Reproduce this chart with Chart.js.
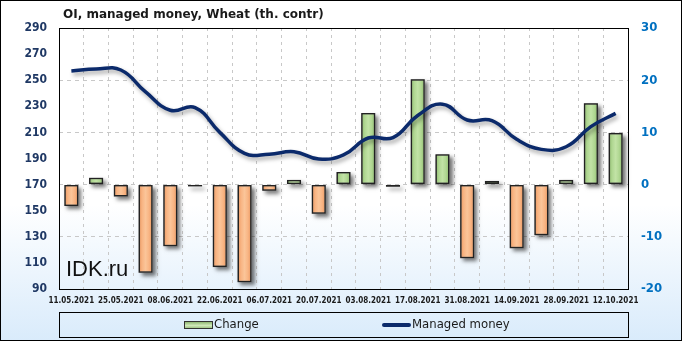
<!DOCTYPE html>
<html>
<head>
<meta charset="utf-8">
<script src="https://cdn.jsdelivr.net/npm/chart.js@4.4.1/dist/chart.umd.min.js"></script>
<style>
  html, body { margin: 0; padding: 0; background: #fff; }
  #wrap { width: 682px; height: 341px; position: relative; }
</style>
</head>
<body>
<div id="wrap"><canvas id="chart" width="682" height="341"></canvas></div>
<script>
const dates = [
    '11.05.2021', '18.05.2021', '25.05.2021', '01.06.2021', '08.06.2021', '15.06.2021',
    '22.06.2021', '29.06.2021', '06.07.2021', '13.07.2021', '20.07.2021', '27.07.2021',
    '03.08.2021', '10.08.2021', '17.08.2021', '24.08.2021', '31.08.2021', '07.09.2021',
    '14.09.2021', '21.09.2021', '28.09.2021', '05.10.2021', '12.10.2021'
];

// weekly change, th. contracts (right axis)
const change = [-4.1, 1.3, -2.3, -16.9, -11.8, -0.3, -15.8, -18.7, -1.2, 0.9, -5.6, 2.4,
    13.7, -0.4, 20.2, 5.8, -14.1, 0.7, -12.2, -9.7, 0.9, 15.6, 9.9];

// managed money open interest, th. contracts (left axis)
const managed = [257, 258.6, 257.8, 241, 227, 229, 210, 194, 193.2, 195.2, 189.6, 192.7,
    205.7, 206, 223, 231.6, 219.5, 219, 204.7, 197, 199, 214.4, 224.6];

const leftTicks = { min: 90, max: 290, step: 20 };
const rightTicks = { min: -20, max: 30, step: 10 };

const title = 'OI, managed money, Wheat (th. contr)';

function barFill(context) {
    const chart = context.chart;
    const up = context.raw >= 0;
    if (!chart.chartArea) return up ? '#a9d18e' : '#f4b183';
    const x = chart.scales.x.getPixelForValue(context.dataIndex);
    const g = chart.ctx.createLinearGradient(x - 7, 0, x + 7, 0);
    if (up) {
        g.addColorStop(0, '#8dba6c');
        g.addColorStop(0.25, '#b0d792');
        g.addColorStop(0.5, '#c2e3a6');
        g.addColorStop(0.75, '#b0d792');
        g.addColorStop(1, '#8dba6c');
    } else {
        g.addColorStop(0, '#e9955d');
        g.addColorStop(0.25, '#f8b483');
        g.addColorStop(0.5, '#fbc599');
        g.addColorStop(0.75, '#f8b483');
        g.addColorStop(1, '#e9955d');
    }
    return g;
}

const background = {
    id: 'background',
    beforeDraw(chart) {
        const { ctx, width, height } = chart;
        const g = ctx.createLinearGradient(0, 0, 0, height);
        g.addColorStop(0, '#ffffff');
        g.addColorStop(0.6, '#ffffff');
        g.addColorStop(1, '#d9ebfb');
        ctx.save();
        ctx.fillStyle = g;
        ctx.fillRect(0, 0, width, height);
        ctx.restore();
    },
    afterDraw(chart) {
        const { ctx, width, height, chartArea: a } = chart;
        ctx.save();
        ctx.strokeStyle = '#000';
        ctx.lineWidth = 1;
        ctx.strokeRect(0.5, 0.5, width - 1, height - 1);
        ctx.strokeRect(Math.round(a.left) + 0.5, Math.round(a.top) + 0.5,
            Math.round(a.right - a.left), Math.round(a.bottom - a.top));

        // title
        ctx.fillStyle = '#1a1a1a';
        ctx.font = 'bold 12px "DejaVu Sans"';
        ctx.textBaseline = 'middle';
        ctx.fillText(title, 63, 15);

        // watermark
        ctx.font = '22px "Liberation Sans"';
        ctx.fillStyle = '#111';
        ctx.textBaseline = 'alphabetic';
        ctx.fillText('IDK.ru', 66, 276);

        // legend
        ctx.strokeRect(59.5, 312.5, 569, 25);
        const ds = chart.data.datasets;
        ctx.font = '13px "DejaVu Sans Condensed"';
        ctx.textBaseline = 'middle';
        const lg = ctx.createLinearGradient(0, 322, 0, 329);
        lg.addColorStop(0, '#8fb873');
        lg.addColorStop(0.5, '#cfe8b8');
        lg.addColorStop(1, '#8fb873');
        ctx.fillStyle = lg;
        ctx.fillRect(184.5, 321.5, 28, 7);
        ctx.strokeStyle = '#333';
        ctx.strokeRect(184.5, 321.5, 28, 7);
        ctx.fillStyle = '#1a1a1a';
        ctx.fillText(ds[1].label, 214, 325);
        ctx.strokeStyle = '#0b2a6b';
        ctx.lineWidth = 4;
        ctx.lineCap = 'round';
        ctx.beginPath();
        ctx.moveTo(384, 325);
        ctx.lineTo(409, 325);
        ctx.stroke();
        ctx.fillText(ds[0].label, 412, 325);
        ctx.restore();
    }
};

// soft drop shadow under bars and the line
const shadow = {
    id: 'shadow',
    beforeDatasetDraw(chart, args) {
        const ctx = chart.ctx;
        if (args.meta.type === 'bar') {
            ctx.save();
            ctx.shadowColor = 'rgba(0,0,0,0.55)';
            ctx.shadowBlur = 4;
            ctx.shadowOffsetX = 3;
            ctx.shadowOffsetY = 3;
            ctx.fillStyle = '#777';
            args.meta.data.forEach(bar => {
                const { x, y, base, width } = bar.getProps(['x', 'y', 'base', 'width'], true);
                const top = Math.min(y, base);
                ctx.fillRect(x - width / 2, top, width, Math.max(Math.abs(base - y), 1.5));
            });
            ctx.restore();
        } else {
            ctx.save();
            ctx.shadowColor = 'rgba(0,0,0,0.35)';
            ctx.shadowBlur = 4;
            ctx.shadowOffsetX = 2;
            ctx.shadowOffsetY = 3;
        }
    },
    afterDatasetDraw(chart, args) {
        if (args.meta.type !== 'bar') chart.ctx.restore();
    }
};

new Chart(document.getElementById('chart'), {
    data: {
        labels: dates,
        datasets: [{
            type: 'line',
            label: 'Managed money',
            data: managed,
            yAxisID: 'yL',
            borderColor: '#0b2a6b',
            borderWidth: 3.5,
            tension: 0.45,
            pointRadius: 0,
            order: 0
        }, {
            type: 'bar',
            label: 'Change',
            data: change,
            yAxisID: 'yR',
            backgroundColor: barFill,
            borderColor: '#222',
            borderWidth: 1.5,
            borderSkipped: false,
            categoryPercentage: 1,
            barPercentage: 0.57,
            order: 1
        }]
    },
    options: {
        responsive: false,
        animation: false,
        layout: { padding: { top: 28, left: 0, right: 0, bottom: 0 } },
        plugins: {
            legend: { display: false },
            tooltip: { enabled: false }
        },
        scales: {
            x: {
                offset: true,
                grid: {
                    offset: true,
                    color: '#c8c8c8',
                    drawTicks: false
                },
                border: { display: false, dash: [3, 4] },
                ticks: {
                    autoSkip: false,
                    maxRotation: 0,
                    padding: 7,
                    color: '#1a1a1a',
                    font: { family: 'DejaVu Sans Condensed', size: 8, weight: 'bold' },
                    callback: (v, i) => i % 2 === 0 ? dates[i] : ''
                },
                afterFit(s) { s.height = 52; }
            },
            yL: {
                position: 'left',
                min: leftTicks.min,
                max: leftTicks.max,
                grid: { display: false, drawTicks: false },
                border: { display: false },
                ticks: {
                    stepSize: leftTicks.step,
                    padding: 12,
                    color: '#1f3864',
                    font: { family: 'DejaVu Sans Condensed', size: 12, weight: 'bold' }
                },
                afterFit(s) { s.width = 59; }
            },
            yR: {
                position: 'right',
                min: rightTicks.min,
                max: rightTicks.max,
                grid: { color: '#c8c8c8', drawTicks: false },
                border: { display: false, dash: [4, 4] },
                ticks: {
                    stepSize: rightTicks.step,
                    padding: 13,
                    color: '#0070c0',
                    font: { family: 'DejaVu Sans Condensed', size: 13, weight: 'bold' }
                },
                afterFit(s) { s.width = 54; }
            }
        }
    },
    plugins: [background, shadow]
});
</script>
</body>
</html>
